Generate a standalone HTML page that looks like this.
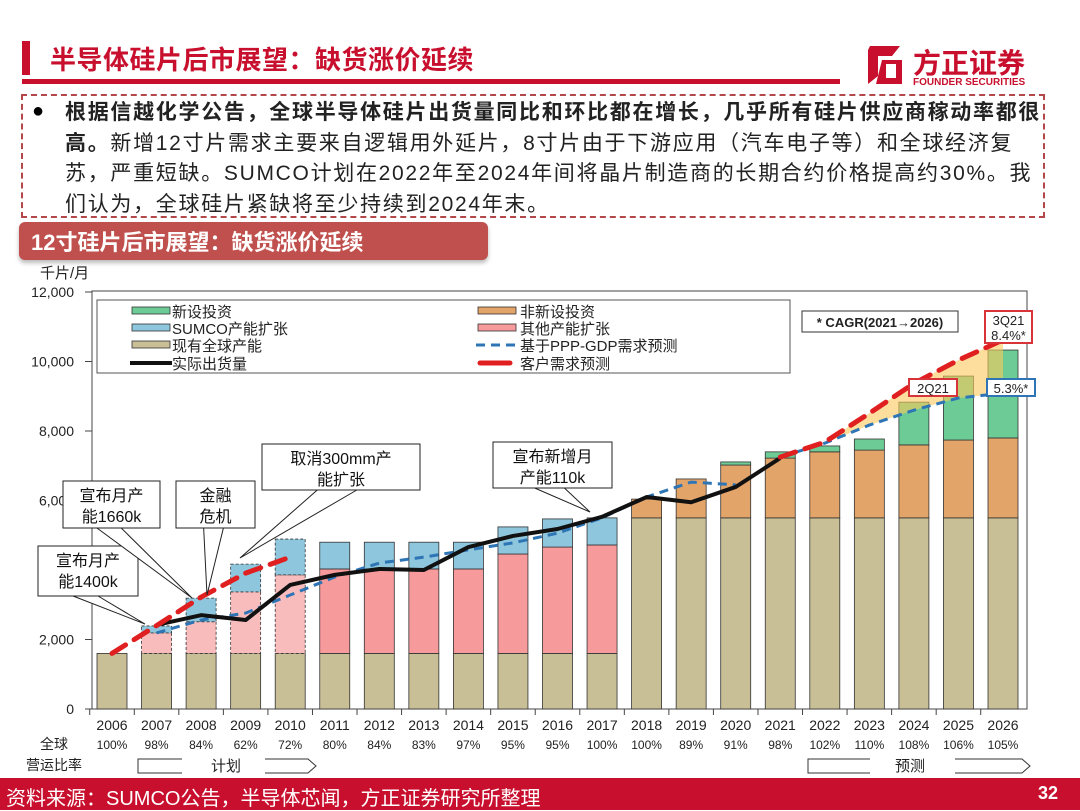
<!DOCTYPE html>
<html><head><meta charset="utf-8">
<style>
*{margin:0;padding:0;box-sizing:border-box}
body{width:1080px;height:810px;background:#fff;position:relative;overflow:hidden;font-family:"Liberation Sans","Noto Sans CJK SC",sans-serif}
.abs{position:absolute}
</style></head><body>
<div class="abs" style="left:22px;top:41px;width:8px;height:34px;background:#c8102e"></div>
<div class="abs" style="left:50px;top:40px;font-size:26px;font-weight:bold;color:#c8102e;letter-spacing:0.5px">半导体硅片后市展望：缺货涨价延续</div>
<div class="abs" style="left:22px;top:79px;width:818px;height:5px;background:#c8102e"></div>
<div class="abs" style="left:862px;top:42px;width:50px;height:46px">
<svg width="50" height="46"><polygon points="8,4 38,4 30,14 16,14 16,34 6,42 6,8" fill="#c8102e"/><polygon points="20,18 40,18 40,42 14,42" fill="#c8102e"/><polygon points="24,22 34,22 34,36 24,36" fill="#fff"/></svg></div>
<div class="abs" style="left:913px;top:42px;font-size:28px;font-weight:bold;color:#c8102e">方正证券</div>
<div class="abs" style="left:913px;top:77px;font-size:10px;font-weight:bold;color:#c8102e">FOUNDER SECURITIES</div>
<div class="abs" style="left:21px;top:94px;width:1024px;height:124px;border:2px dashed #b4474a"></div>
<span class="abs" style="left:32px;top:100px;font-size:20px">●</span>
<div class="abs" style="left:65px;top:98px;width:980px;font-size:21px;line-height:30.5px;color:#222;white-space:nowrap;letter-spacing:1.7px">
<b>根据信越化学公告，全球半导体硅片出货量同比和环比都在增长，几乎所有硅片供应商稼动率都很</b><br><b>高。</b>新增12寸片需求主要来自逻辑用外延片，8寸片由于下游应用（汽车电子等）和全球经济复<br>苏，严重短缺。SUMCO计划在2022年至2024年间将晶片制造商的长期合约价格提高约30%。我<br>们认为，全球硅片紧缺将至少持续到2024年末。</div>
<div class="abs" style="left:19px;top:222px;width:469px;height:38px;background:#c0504d;border-radius:6px;box-shadow:0 3px 4px #bbb;color:#fff;font-size:22px;font-weight:bold;padding:3px 12px">12寸硅片后市展望：缺货涨价延续</div>
<div class="abs" style="left:40px;top:262px;font-size:15px;color:#222">千片/月</div>
<svg class="abs" style="left:0;top:0" width="1080" height="810" id="chart"></svg>
<div class="abs" style="left:0;top:778px;width:1080px;height:32px;background:#c8102e"></div>
<div class="abs" style="left:6px;top:782px;font-size:20px;color:#fff">资料来源：SUMCO公告，半导体芯闻，方正证券研究所整理</div>
<div class="abs" style="left:1038px;top:783px;font-size:18px;font-weight:bold;color:#fff">32</div>
<script>
const years=[2006,2007,2008,2009,2010,2011,2012,2013,2014,2015,2016,2017,2018,2019,2020,2021,2022,2023,2024,2025,2026];
const utilization=["100%","98%","84%","62%","72%","80%","84%","83%","97%","95%","95%","100%","100%","89%","91%","98%","102%","110%","108%","106%","105%"];
const existingCap=[1600,1600,1600,1600,1600,1600,1600,1600,1600,1600,1600,1600,5500,5500,5500,5500,5500,5500,5500,5500,5500];
const otherExp=[0,590,910,1770,2260,2430,2430,2430,2430,2860,3060,3120,0,0,0,0,0,0,0,0,0];
const sumcoExp=[0,200,680,800,1030,770,770,770,770,780,810,780,0,0,0,0,0,0,0,0,0];
const nonNewInv=[0,0,0,0,0,0,0,0,0,0,0,0,540,1120,1520,1720,1900,1950,2100,2240,2300];
const newInv=[0,0,0,0,0,0,0,0,0,0,0,0,0,0,90,180,170,320,1230,1840,2530];
const shipments=[null,2420,2700,2560,3570,3860,4030,4000,4660,4980,5180,5530,6100,5950,6390,7220,null,null,null,null,null];
const pppDemand=[null,2190,2560,2760,3280,3800,4200,4370,4580,4780,5060,5500,6100,6530,6450,7250,7650,8170,8600,8950,9090];
const customerDemand=[1600,2400,3220,3910,4370,null,null,null,null,null,null,null,null,null,null,7250,7680,8510,9370,10040,10620];
const yTicks=[0,2000,4000,6000,8000,10000,12000];
const yTickLabels=["0","2,000","4,000","6,000","8,000","10,000","12,000"];

const svg=document.getElementById('chart');const NS='http://www.w3.org/2000/svg';
const X0=112,STEP=44.55,BW=30,Y0=709,K=417/12000;
const x=i=>X0+i*STEP, y=v=>Y0-v*K;
function mk(tag,attrs,parent){const e=document.createElementNS(NS,tag);for(const k in attrs)e.setAttribute(k,attrs[k]);(parent||svg).appendChild(e);return e;}
function txt(s,attrs){const e=mk('text',attrs);e.textContent=s;return e;}
let f=mk('rect',{x:92,y:291,width:935,height:418,fill:'none',stroke:'#444','stroke-width':1});


yTicks.forEach((t,i)=>{mk('line',{x1:85,x2:92,y1:y(t),y2:y(t),stroke:'#444'});
 const l=txt(yTickLabels[i],{x:74,y:y(t)+5,'text-anchor':'end','font-size':14,fill:'#222'});
 
 });
const colors={base:'#c8bf97',pink:'#f79a9c',lpink:'#f9bcbd',blue:'#8ec6dd',orange:'#e3a469',green:'#6dcc96'};
years.forEach((yr,i)=>{
 const dashed=(i>=1&&i<=4);
 let acc=0;
 const segs=[[existingCap[i],'base'],[otherExp[i],dashed?'lpink':'pink'],[sumcoExp[i],'blue'],[nonNewInv[i],'orange'],[newInv[i],'green']];
 segs.forEach(([v,c])=>{if(!v)return;
  const r=mk('rect',{x:x(i)-BW/2,y:y(acc+v),width:BW,height:v*K,fill:colors[c],stroke:'#333','stroke-width':0.8,'stroke-dasharray':dashed&&c!=='base'?'3,2':'none'});
  
  
  acc+=v;});
 mk('line',{x1:x(i)-STEP/2,x2:x(i)-STEP/2,y1:709,y2:715,stroke:'#444'});
 const l=txt(String(yr),{x:x(i),y:730,'text-anchor':'middle','font-size':14,fill:'#222'});
 
 
 const u=txt(utilization[i],{x:x(i),y:749,'text-anchor':'middle','font-size':12,fill:'#222'});
 
 
});
const fb=[];for(let i=15;i<years.length;i++)fb.push(x(i)+','+y(customerDemand[i]));for(let i=years.length-1;i>=15;i--)fb.push(x(i)+','+y(pppDemand[i]));
const band=mk('polygon',{points:fb.join(' '),fill:'#fbc85a','fill-opacity':0.6});


function line(arr,from,to,attrs,name){const pts=[];for(let i=from;i<=to;i++)if(arr[i]!=null)pts.push(x(i)+','+y(arr[i]));
 const p=mk('polyline',Object.assign({points:pts.join(' '),fill:'none'},attrs));
 
 }
line(pppDemand,1,14,{stroke:'#2e75b6','stroke-width':3,'stroke-dasharray':'9,6'},'ppp-gdp-demand-line');
line(pppDemand,15,20,{stroke:'#2e75b6','stroke-width':3,'stroke-dasharray':'9,6'},'ppp-gdp-forecast-line');
line(shipments,1,15,{stroke:'#111','stroke-width':4,'stroke-linejoin':'round'},'actual-shipments-line');
line(customerDemand,0,4,{stroke:'#e02020','stroke-width':5,'stroke-dasharray':'16,10','stroke-linecap':'round'},'customer-demand-line');
line(customerDemand,15,20,{stroke:'#e02020','stroke-width':5,'stroke-dasharray':'16,10','stroke-linecap':'round'},'customer-demand-forecast-line');
const lg=mk('rect',{x:97,y:300,width:693,height:73,fill:'#fff',stroke:'#555'});


const L=[[122,311,'新设投资','g'],[122,328,'SUMCO产能扩张','b'],[122,345,'现有全球产能','t'],[122,363,'实际出货量','k'],[468,311,'非新设投资','o'],[468,328,'其他产能扩张','p'],[468,345,'基于PPP-GDP需求预测','d'],[468,363,'客户需求预测','r']];
const sw={g:colors.green,b:colors.blue,t:colors.base,o:colors.orange,p:colors.pink};
L.forEach(([lx,ly,s,c])=>{
 if(sw[c]){mk('rect',{x:lx+10,y:ly-4,width:38,height:7,fill:sw[c],stroke:'#333','stroke-width':0.8});}
 else if(c==='k')mk('line',{x1:lx+8,x2:lx+50,y1:ly,y2:ly,stroke:'#111','stroke-width':4});
 else if(c==='d')mk('line',{x1:lx+8,x2:lx+50,y1:ly,y2:ly,stroke:'#2e75b6','stroke-width':3,'stroke-dasharray':'9,6'});
 else mk('line',{x1:lx+12,x2:lx+42,y1:ly,y2:ly,stroke:'#e02020','stroke-width':5,'stroke-linecap':'round'});
 const t=txt(s,{x:lx+50+(lx>400?2:0),y:ly+6,'font-size':15,fill:'#222'});
 
 });
function box(bx,by,bw,bh,stroke,lines,fs,name,bold){const r=mk('rect',{x:bx,y:by,width:bw,height:bh,fill:'#fff',stroke:stroke,'stroke-width':stroke==='#333'?1:2});
 
 
 lines.forEach((s,j)=>{txt(s,{x:bx+bw/2,y:by+fs+2+j*(fs+2)+(bh-lines.length*(fs+2))/2-2,'text-anchor':'middle','font-size':fs,fill:'#222','font-weight':bold?'bold':'normal'});});}
box(802,311,156,21,'#333',['* CAGR(2021→2026)'],13,'cagr-note',true);
box(985,311,47,32,'#d9333a',['3Q21','8.4%*'],13,'tag-3q21');
box(909,379,48,17,'#d9333a',['2Q21'],13,'tag-2q21');
box(987,379,48,17,'#2e75b6',['5.3%*'],13,'tag-5-3pct');
function callout(bx,by,bw,bh,lines,tips,name){tips.forEach(tp=>{mk('polyline',{points:(bx+bw*0.35)+','+(by+bh)+' '+tp[0]+','+tp[1]+' '+(bx+bw*0.6)+','+(by+bh),fill:'#fff',stroke:'#222','stroke-width':1});});
 const r=mk('rect',{x:bx,y:by,width:bw,height:bh,fill:'#fff',stroke:'#222','stroke-width':1});
 
 
 lines.forEach((s,j)=>txt(s,{x:bx+bw/2,y:by+20+j*21,'text-anchor':'middle','font-size':16,fill:'#111'}));}
callout(38,546,100,50,['宣布月产','能1400k'],[[145,624]],'callout-1400k');
callout(63,481,97,47,['宣布月产','能1660k'],[[192,598]],'callout-1660k');
callout(176,481,79,47,['金融','危机'],[[207,595]],'callout-financial-crisis');
callout(262,444,158,46,['取消300mm产','能扩张'],[[240,558]],'callout-cancel-300mm');
callout(493,442,119,46,['宣布新增月','产能110k'],[[590,512]],'callout-110k');
[['全球',54,749],['营运比率',54,770]].forEach(([s,lx,ly])=>{const t=txt(s,{x:lx,y:ly,'text-anchor':'middle','font-size':14,fill:'#222'});});
function arrow(x1,x2,yy){mk('polyline',{points:x1+','+(yy-7)+' '+x2+','+(yy-7)+' '+(x2+8)+','+yy+' '+x2+','+(yy+7)+' '+x1+','+(yy+7),fill:'none',stroke:'#333'});}
mk('polyline',{points:'182,759 138,759 138,773 182,773',fill:'none',stroke:'#333'});
arrow(265,308,766);txt('计划',{x:226,y:771,'text-anchor':'middle','font-size':15,fill:'#222'});
mk('polyline',{points:'870,759 808,759 808,773 870,773',fill:'none',stroke:'#333'});
arrow(955,1022,766);txt('预测',{x:910,y:771,'text-anchor':'middle','font-size':15,fill:'#222'});
</script>
</body></html>
